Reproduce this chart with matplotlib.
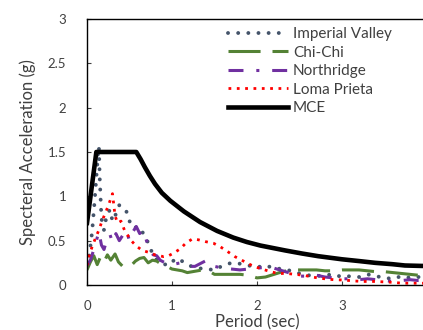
import matplotlib
matplotlib.use("Agg")
import matplotlib.pyplot as plt

plt.rcParams['font.family'] = ['Lato', 'DejaVu Sans']

# ---- data ----
iv_T = [0, .03, .06, .09, .12, .13, .14, .15, .17, .2, .23, .27, .3, .34, .38, .42, .46, .5, .55, .6, .65,
        .7, .75, .8, .85, .9, .95, 1.0, 1.05, 1.1, 1.15, 1.2, 1.3, 1.4, 1.5, 1.6, 1.7, 1.8, 1.9, 2.0,
        2.1, 2.2, 2.3, 2.4, 2.5, 2.6, 2.7, 2.8, 2.9, 3.0, 3.1, 3.2, 3.3, 3.4, 3.5, 3.6, 3.7, 3.8, 3.9, 4.0]
iv_Sa = [.22, .35, .6, .95, 1.35, 1.50, 1.56, 1.2, .75, .62, .78, .85, .72, .80, .90, .88, .84, .72, .64, .66,
         .60, .52, .40, .30, .26, .24, .22, .26, .30, .28, .25, .22, .19, .18, .17, .22, .25, .24, .22,
         .20, .22, .19, .18, .16, .13, .11, .10, .11, .12, .09, .10, .09, .12, .10, .08, .07, .10, .08, .09, .10]

cc_T = [0, .04, .08, .12, .16, .2, .24, .28, .33, .37, .42, .47, .52, .57, .62, .67, .72, .77, .82, .88,
        .94, 1.0, 1.06, 1.12, 1.18, 1.24, 1.3, 1.36, 1.43, 1.5, 1.6, 1.7, 1.8, 1.9, 2.0, 2.1, 2.2, 2.3,
        2.4, 2.5, 2.6, 2.7, 2.8, 2.9, 3.0, 3.1, 3.2, 3.3, 3.4, 3.5, 3.6, 3.7, 3.8, 3.9, 4.0]
cc_Sa = [.17, .26, .33, .23, .32, .26, .34, .28, .35, .26, .21, .20, .22, .27, .30, .31, .25, .28, .27,
         .23, .21, .18, .17, .16, .14, .15, .16, .17, .16, .12, .12, .12, .12, .11, .08, .09, .12, .15,
         .17, .17, .17, .17, .16, .16, .17, .17, .17, .16, .15, .15, .14, .13, .12, .11, .13]

nr_T = [0, .04, .08, .11, .14, .17, .2, .23, .27, .3, .34, .38, .42, .46, .5, .54, .58, .62, .66, .7,
        .74, .78, .82, .86, .9, .95, 1.0, 1.05, 1.1, 1.15, 1.2, 1.27, 1.35, 1.41, 1.5, 1.6, 1.7, 1.8,
        1.9, 2.0, 2.1, 2.2, 2.3, 2.4, 2.5, 2.6, 2.7, 2.8, 2.9, 3.0, 3.1, 3.2, 3.3, 3.4, 3.5, 3.6, 3.7,
        3.8, 3.9, 4.0]
nr_Sa = [.22, .28, .40, .50, .60, .45, .40, .50, .57, .48, .58, .50, .56, .62, .50, .60, .66, .58, .62,
         .50, .38, .34, .33, .28, .26, .24, .23, .24, .25, .22, .21, .21, .25, .28, .21, .19, .18, .17,
         .18, .19, .20, .19, .16, .13, .10, .10, .11, .09, .08, .07, .07, .06, .07, .06, .05, .04, .05,
         .06, .05, .05]

lp_T = [0, .02, .06, .1, .14, .18, .22, .26, .3, .33, .36, .4, .44, .48, .52, .58, .65, .72, .8, .9,
        .96, 1.02, 1.1, 1.16, 1.24, 1.31, 1.39, 1.49, 1.57, 1.65, 1.74, 1.86, 1.96, 2.06, 2.16, 2.25,
        2.35, 2.45, 2.55, 2.65, 2.75, 2.9, 3.02, 3.15, 3.25, 3.37, 3.5, 3.6, 3.71, 3.84, 4.0]
lp_Sa = [.22, .32, .43, .53, .62, .73, .82, .92, 1.03, .78, .70, .72, .62, .56, .50, .44, .39, .37, .34,
         .32, .33, .36, .41, .47, .52, .51, .49, .47, .43, .38, .32, .26, .21, .18, .15, .13, .13, .12,
         .11, .09, .075, .06, .056, .045, .04, .04, .035, .03, .02, .02, .02]

mce_T = [0, .11, .58, .63, .68, .74, .80, .88, .98, 1.14, 1.33, 1.53, 1.72, 1.88, 2.04, 2.33, 2.53,
         2.72, 3.0, 3.2, 3.39, 3.59, 3.74, 3.94, 4.0]
mce_Sa = [.70, 1.5, 1.5, 1.42, 1.33, 1.23, 1.14, 1.04, .95, .83, .71, .61, .535, .485, .445, .39, .355,
          .325, .29, .27, .25, .235, .22, .215, .215]

labels = ["Imperial Valley", "Chi-Chi", "Northridge", "Loma Prieta", "MCE"]
x_ticks = [0, 1, 2, 3, 4]
y_ticks = [0, 0.5, 1, 1.5, 2, 2.5, 3]
y_ticklabels = ["0", "0.5", "1", "1.5", "2", "2.5", "3"]

W, H = 423, 330
fig = plt.figure(figsize=(W / 100, H / 100), dpi=100)
ax = fig.add_axes([87 / W, 45 / H, 340 / W, 266 / H])

txt = '#404040'

l1, = ax.plot(iv_T, iv_Sa, color='#44546a', lw=2.8, dashes=(0.01, 2.6),
              dash_capstyle='round', label=labels[0])
l2, = ax.plot(cc_T, cc_Sa, color='#548235', lw=2.2, dashes=(10.5, 3.9),
              dash_capstyle='butt', label=labels[1])
l3, = ax.plot(nr_T, nr_Sa, color='#7030a0', lw=2.2, dashes=(4.9, 4.2, 1.0, 4.2),
              dash_capstyle='butt', label=labels[2])
l4, = ax.plot(lp_T, lp_Sa, color='#ff0000', lw=2.0, dashes=(1, 2),
              dash_capstyle='butt', label=labels[3])
l5, = ax.plot(mce_T, mce_Sa, color='black', lw=3.3, solid_joinstyle='round', label=labels[4])

ax.set_xlim(0, 4)
ax.set_ylim(0, 3)
ax.set_xticks(x_ticks)
ax.set_yticks(y_ticks)
ax.set_yticklabels(y_ticklabels)
ax.tick_params(axis='both', direction='in', length=3.2, width=0.8, colors='#404040',
               labelsize=9.5, labelcolor=txt)
ax.tick_params(axis='y', pad=15)
ax.tick_params(axis='x', pad=11)
for s in ax.spines.values():
    s.set_linewidth(1.0)
    s.set_color('black')

ax.set_xlabel("Period (sec)", fontsize=12, color=txt, labelpad=1.8)
ax.set_ylabel("Specteral Acceleration (g)", fontsize=12, color=txt, labelpad=8)

leg = fig.legend(handles=[l1, l2, l3, l4, l5], loc='upper left',
                 bbox_to_anchor=(228 / W, 1 - 27 / H), bbox_transform=fig.transFigure,
                 frameon=False, fontsize=11, handlelength=3.9, handletextpad=0.35,
                 labelspacing=0.3, borderpad=0, borderaxespad=0)
for t in leg.get_texts():
    t.set_color(txt)

fig.savefig("out.png", dpi=100)
